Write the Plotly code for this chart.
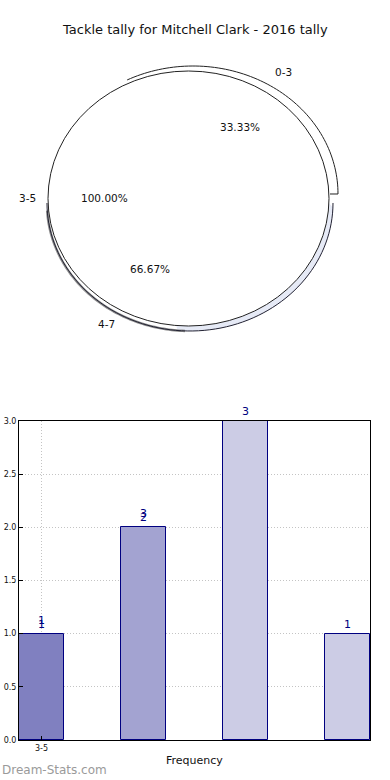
import numpy as np
import plotly.graph_objects as go

# ---------------- data ----------------
title_text = "Tackle tally for Mitchell Clark - 2016 tally"
pie_labels = ["0-3", "3-5", "4-7"]
pie_values = [1, 3, 2]
pie_pct_text = ["33.33%", "100.00%", "66.67%"]

bar_positions = [0, 1, 2, 3]
bar_values = [1, 2, 3, 1]
bar_text = ["1", "2", "3", "1"]
bar_extra_positions = [0, 1]
bar_extra_values = [1, 2]
bar_extra_text = ["1", "3"]
bar_colors = ["#8080c0", "#a3a3d1", "#cccce5", "#cccce5"]
x_tick_vals = [0]
x_tick_text = ["3-5"]
y_tick_vals = [0, 0.5, 1.0, 1.5, 2.0, 2.5, 3.0]
y_tick_text = ["0.0", "0.5", "1.0", "1.5", "2.0", "2.5", "3.0"]
x_title = "Frequency"
watermark = "Dream-Stats.com"

# ---------------- layout helpers (screen pixel -> paper) ----------------
W, H = 390, 780
ML, MT = 19, 0
MR = W - 370
MB = H - 740
PW, PH = W - ML - MR, H - MT - MB


def px(x):
    return (x - ML) / PW


def py(y):
    return (H - MB - y) / PH


def arc_pts(cx, cy, rx, ry, a0, a1, n=80):
    t = np.radians(np.linspace(a0, a1, n))
    return list(zip(cx + rx * np.cos(t), cy - ry * np.sin(t)))


def path_of(pts, close=False):
    d = "M " + " L ".join(f"{px(a):.5f},{py(b):.5f}" for a, b in pts)
    return d + (" Z" if close else "")


FONT = "DejaVu Sans"
fig = go.Figure()

# pie (white slices, outlines drawn as shapes)
fig.add_trace(go.Pie(
    labels=pie_labels, values=pie_values, sort=False, direction="counterclockwise",
    marker=dict(colors=["white"] * 3, line=dict(width=0)),
    textinfo="none", showlegend=False,
    domain=dict(x=[px(48), px(329)], y=[py(326), py(71)]),
))

# bars
fig.add_trace(go.Bar(
    x=bar_positions, y=bar_values, width=0.44,
    marker=dict(color=bar_colors, line=dict(color="#000080", width=1)),
    showlegend=False, xaxis="x", yaxis="y",
))

shapes = []
# thin light-blue band between exploded lower slice and main outline
band = arc_pts(190, 203, 143, 128, 265, 358) + arc_pts(188.5, 198.5, 140.5, 127.5, 358, 265)
shapes.append(dict(type="path", xref="paper", yref="paper", path=path_of(band, True),
                   fillcolor="#e6eaf6", line=dict(width=0)))
shapes.append(dict(type="path", xref="paper", yref="paper",
                   path=path_of(arc_pts(190, 204, 143, 127, 183, 268)),
                   line=dict(color="#909090", width=2.5)))
shapes.append(dict(type="path", xref="paper", yref="paper",
                   path=path_of(arc_pts(190, 203, 143, 128, 180, 360)),
                   line=dict(color="#222233", width=1)))
shapes.append(dict(type="path", xref="paper", yref="paper",
                   path=path_of([(330, 194)] + arc_pts(193, 194, 145, 128, 0, 117)),
                   line=dict(color="#222222", width=1)))
shapes.append(dict(type="circle", xref="paper", yref="paper",
                   x0=px(48), x1=px(329), y0=py(326), y1=py(71),
                   line=dict(color="#222222", width=1), fillcolor="rgba(0,0,0,0)"))


def note(text, x, y, size, color="#111111", xanchor="center"):
    return dict(text=text, x=px(x), y=py(y), xref="paper", yref="paper",
                showarrow=False, xanchor=xanchor, yanchor="middle",
                font=dict(family=FONT, size=size, color=color))


annotations = [note(title_text, 195, 29, 13)]
label_pos = [(283, 72), (27, 198), (106, 324)]
pct_pos = [(240, 127), (104, 198), (150, 269)]
for lab, (lx, ly) in zip(pie_labels, label_pos):
    annotations.append(note(lab, lx, ly, 10.5))
for t, (lx, ly) in zip(pie_pct_text, pct_pos):
    annotations.append(note(t, lx, ly, 10.5))
for xv, yv, t in zip(bar_positions, bar_values, bar_text):
    annotations.append(dict(text=t, x=xv, y=yv, xref="x", yref="y", showarrow=False,
                            xanchor="center", yanchor="bottom", yshift=1,
                            font=dict(family=FONT, size=11, color="#000080")))
for xv, yv, t in zip(bar_extra_positions, bar_extra_values, bar_extra_text):
    annotations.append(dict(text=t, x=xv, y=yv, xref="x", yref="y", showarrow=False,
                            xanchor="center", yanchor="bottom", yshift=5,
                            font=dict(family=FONT, size=11, color="#000080")))
annotations.append(note(x_title, 194, 760, 11))
annotations.append(note(watermark, 0, 770, 12, color="#9a9a9a", xanchor="left"))

grid = dict(showgrid=True, gridcolor="#c4c4c4", griddash="1px,2px", gridwidth=1,
            showline=True, linecolor="black", linewidth=1, mirror=True,
            ticks="inside", ticklen=4, tickcolor="black", automargin=False,
            tickfont=dict(family=FONT, size=8, color="#111111"), zeroline=False)

fig.update_layout(
    width=W, height=H,
    margin=dict(l=ML, r=MR, t=MT, b=MB, autoexpand=False),
    paper_bgcolor="white", plot_bgcolor="white",
    font=dict(family=FONT, color="#111111"),
    showlegend=False,
    shapes=shapes, annotations=annotations,
    bargap=0,
    xaxis=dict(domain=[0, 1], range=[-0.22, 3.22], tickvals=x_tick_vals, ticktext=x_tick_text, **grid),
    yaxis=dict(domain=[0, py(421)], range=[0, 3], tickvals=y_tick_vals, ticktext=y_tick_text, **grid),
)

fig.write_html(
    "out.html",
    config={"displayModeBar": False},
    post_script="document.body.style.margin='0';document.body.style.overflow='hidden';",
)
